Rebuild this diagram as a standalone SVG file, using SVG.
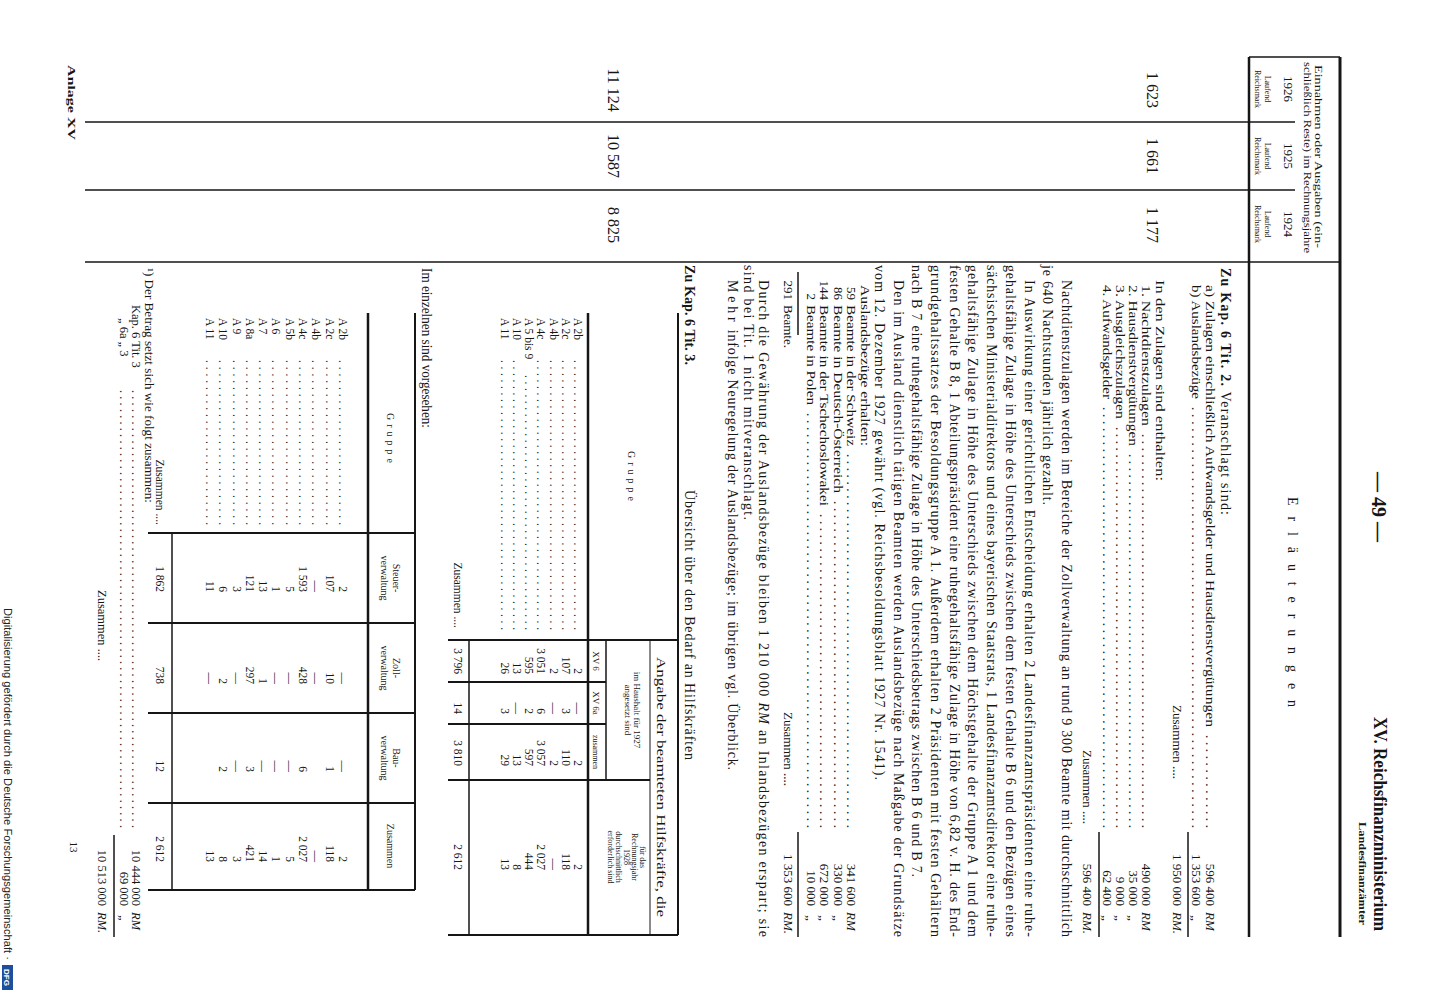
<svg xmlns="http://www.w3.org/2000/svg" width="1434" height="1000" viewBox="0 0 1434 1000">
<style>
.t{font-family:"Liberation Serif","DejaVu Serif",serif;fill:#161616}
.p{font-size:14px}
.q{font-size:13px}
.s{font-size:11.5px}
.f{font-size:12.5px}
.h{font-size:10px}
.xs{font-size:8px}
.b{font-weight:bold}
.i{font-style:italic}
.e{text-anchor:end}
.m{text-anchor:middle}
.k{stroke:#161616;fill:none}
</style>
<rect width="1434" height="1000" fill="#ffffff"/>
<g transform="translate(1434 0) rotate(90)">
<g id="rules" class="k">
<line x1="57" y1="94" x2="937" y2="94" stroke-width="3"/>
<line x1="57" y1="185" x2="937" y2="185" stroke-width="2.5"/>
<line x1="57" y1="94" x2="57" y2="185" stroke-width="1.5"/>
<line x1="262" y1="94" x2="262" y2="1349" stroke-width="1.6"/>
<line x1="122" y1="139" x2="122" y2="1349" stroke-width="1.6"/>
<line x1="190" y1="139" x2="190" y2="1349" stroke-width="1.6"/>
<line x1="832" y1="246" x2="937" y2="246" stroke-width="1.5"/>
<line x1="832" y1="335" x2="937" y2="335" stroke-width="1.5"/>
<line x1="272" y1="636" x2="335" y2="636" stroke-width="1.5"/>
<line x1="832" y1="636" x2="937" y2="636" stroke-width="1.5"/>
</g>
<g id="header">
<text class="t b m" x="507" y="62" font-size="20">— 49 —</text>
<text class="t b" x="717" y="60" font-size="18" textLength="214" lengthAdjust="spacingAndGlyphs">XV. Reichsfinanzministerium</text>
<text class="t b" x="822" y="75" font-size="10" textLength="103" lengthAdjust="spacingAndGlyphs">Landesfinanzämter</text>
<text class="t" x="65" y="119" font-size="10.5" textLength="183" lengthAdjust="spacingAndGlyphs">Einnahmen oder Ausgaben (ein-</text>
<text class="t" x="62" y="130" font-size="10.5" textLength="191" lengthAdjust="spacingAndGlyphs">schließlich Reste) im Rechnungsjahre</text>
<text class="t m" x="89" y="150" font-size="13">1926</text>
<text class="t m" x="156" y="150" font-size="13">1925</text>
<text class="t m" x="224" y="150" font-size="13">1924</text>
<text class="t m xs" x="89" y="169">Laufend</text>
<text class="t m xs" x="89" y="179">Reichsmark</text>
<text class="t m xs" x="156" y="169">Laufend</text>
<text class="t m xs" x="156" y="179">Reichsmark</text>
<text class="t m xs" x="224" y="169">Laufend</text>
<text class="t m xs" x="224" y="179">Reichsmark</text>
<text class="t p" x="497" y="146" textLength="210" lengthAdjust="spacing">Erläuterungen</text>
</g>
<g id="amounts">
<text class="t m" x="90" y="287" font-size="16">1 623</text>
<text class="t m" x="156" y="287" font-size="16">1 661</text>
<text class="t m" x="225" y="287" font-size="16">1 177</text>
<text class="t m" x="90" y="826" font-size="16">11 124</text>
<text class="t m" x="156" y="826" font-size="16">10 587</text>
<text class="t m" x="225" y="826" font-size="16">8 825</text>
</g>
<g id="body-text">
<text class="t p" x="268" y="213" textLength="247" lengthAdjust="spacing"><tspan class="b">Zu Kap. 6 Tit. 2.</tspan>  Veranschlagt sind:</text>
<text class="t q" x="285" y="228" textLength="442" lengthAdjust="spacingAndGlyphs">a) Zulagen einschließlich Aufwandsgelder und Hausdienstvergütungen</text>
<text class="t q" x="735" y="228" textLength="93" lengthAdjust="spacing">..............</text>
<text class="t q e" x="906" y="228">596 400</text><text class="t q i" x="912" y="228">RM</text>
<text class="t q" x="285" y="242" textLength="114" lengthAdjust="spacingAndGlyphs">b) Auslandsbezüge</text>
<text class="t q" x="407" y="242" textLength="421" lengthAdjust="spacing">............................................................</text>
<text class="t q e" x="906" y="242">1 353 600</text><text class="t q" x="915" y="242">„</text>
<text class="t q" x="705" y="261">Zusammen ....</text>
<text class="t q e" x="906" y="261">1 950 000</text><text class="t q i" x="912" y="261">RM.</text>
<text class="t q" x="280" y="278" textLength="201" lengthAdjust="spacingAndGlyphs">In den Zulagen sind enthalten:</text>
<text class="t q" x="285" y="292" textLength="141" lengthAdjust="spacingAndGlyphs">1. Nachtdienstzulagen</text>
<text class="t q" x="434" y="292" textLength="394" lengthAdjust="spacing">..........................................................</text>
<text class="t q e" x="906" y="292">490 000</text><text class="t q i" x="912" y="292">RM</text>
<text class="t q" x="285" y="305" textLength="161" lengthAdjust="spacingAndGlyphs">2. Hausdienstvergütungen</text>
<text class="t q" x="454" y="305" textLength="374" lengthAdjust="spacing">.......................................................</text>
<text class="t q e" x="906" y="305">35 000</text><text class="t q" x="915" y="305">„</text>
<text class="t q" x="285" y="318" textLength="134" lengthAdjust="spacingAndGlyphs">3. Ausgleichszulagen</text>
<text class="t q" x="427" y="318" textLength="401" lengthAdjust="spacing">...........................................................</text>
<text class="t q e" x="906" y="318">9 000</text><text class="t q" x="915" y="318">„</text>
<text class="t q" x="285" y="331" textLength="114" lengthAdjust="spacingAndGlyphs">4. Aufwandsgelder</text>
<text class="t q" x="407" y="331" textLength="421" lengthAdjust="spacing">.............................................................</text>
<text class="t q e" x="906" y="331">62 400</text><text class="t q" x="915" y="331">„</text>
<text class="t q" x="750" y="351">Zusammen ....</text>
<text class="t q e" x="906" y="351">596 400</text><text class="t q i" x="912" y="351">RM.</text>
<text class="t p" x="280" y="372" textLength="657" lengthAdjust="spacing">Nachtdienstzulagen werden im Bereiche der Zollverwaltung an rund 9 300 Beamte mit durchschnittlich</text>
<text class="t p" x="265" y="391" textLength="240" lengthAdjust="spacing">je 640 Nachtstunden jährlich gezahlt.</text>
<text class="t p" x="280" y="409" textLength="657" lengthAdjust="spacing">In Auswirkung einer gerichtlichen Entscheidung erhalten 2 Landesfinanzamtspräsidenten eine ruhe-</text>
<text class="t p" x="265" y="428" textLength="672" lengthAdjust="spacing">gehaltsfähige Zulage in Höhe des Unterschieds zwischen dem festen Gehalte B 6 und den Bezügen eines</text>
<text class="t p" x="265" y="447" textLength="672" lengthAdjust="spacing">sächsischen Ministerialdirektors und eines bayerischen Staatsrats, 1 Landesfinanzamtsdirektor eine ruhe-</text>
<text class="t p" x="265" y="466" textLength="672" lengthAdjust="spacing">gehaltsfähige Zulage in Höhe des Unterschieds zwischen dem Höchstgehalte der Gruppe A 1 und dem</text>
<text class="t p" x="265" y="484" textLength="672" lengthAdjust="spacing">festen Gehalte B 8, 1 Abteilungspräsident eine ruhegehaltsfähige Zulage in Höhe von 6,82 v. H. des End-</text>
<text class="t p" x="265" y="503" textLength="672" lengthAdjust="spacing">grundgehaltssatzes der Besoldungsgruppe A 1. Außerdem erhalten 2 Präsidenten mit festen Gehältern</text>
<text class="t p" x="265" y="522" textLength="612" lengthAdjust="spacing">nach B 7 eine ruhegehaltsfähige Zulage in Höhe des Unterschiedsbetrags zwischen B 6 und B 7.</text>
<text class="t p" x="280" y="540" textLength="657" lengthAdjust="spacing">Den im Ausland dienstlich tätigen Beamten werden Auslandsbezüge nach Maßgabe der Grundsätze</text>
<text class="t p" x="265" y="559" textLength="515" lengthAdjust="spacing">vom 12. Dezember 1927 gewährt (vgl. Reichsbesoldungsblatt 1927 Nr. 1541).</text>
<text class="t q" x="285" y="573" textLength="161" lengthAdjust="spacingAndGlyphs">Auslandsbezüge erhalten:</text>
<text class="t q e" x="300" y="587">59</text>
<text class="t q" x="305" y="587" textLength="141" lengthAdjust="spacingAndGlyphs">Beamte in der Schweiz</text>
<text class="t q" x="454" y="587" textLength="374" lengthAdjust="spacing">.......................................................</text>
<text class="t q e" x="906" y="587">341 600</text><text class="t q i" x="912" y="587">RM</text>
<text class="t q e" x="300" y="600">86</text>
<text class="t q" x="305" y="600" textLength="188" lengthAdjust="spacingAndGlyphs">Beamte in Deutsch-Österreich</text>
<text class="t q" x="501" y="600" textLength="327" lengthAdjust="spacing">................................................</text>
<text class="t q e" x="906" y="600">330 000</text><text class="t q" x="915" y="600">„</text>
<text class="t q e" x="300" y="614">144</text>
<text class="t q" x="305" y="614" textLength="201" lengthAdjust="spacingAndGlyphs">Beamte in der Tschechoslowakei</text>
<text class="t q" x="514" y="614" textLength="314" lengthAdjust="spacing">..............................................</text>
<text class="t q e" x="906" y="614">672 000</text><text class="t q" x="915" y="614">„</text>
<text class="t q e" x="300" y="627">2</text>
<text class="t q" x="305" y="627" textLength="100" lengthAdjust="spacingAndGlyphs">Beamte in Polen</text>
<text class="t q" x="413" y="627" textLength="415" lengthAdjust="spacing">............................................................</text>
<text class="t q e" x="906" y="627">10 000</text><text class="t q" x="915" y="627">„</text>
<text class="t q e" x="300" y="650">291</text>
<text class="t q" x="305" y="650">Beamte.</text>
<text class="t q" x="712" y="650">Zusammen ....</text>
<text class="t q e" x="906" y="650">1 353 600</text><text class="t q i" x="912" y="650">RM.</text>
<text class="t p" x="280" y="675" textLength="657" lengthAdjust="spacing">Durch die Gewährung der Auslandsbezüge bleiben 1 210 000 <tspan class="i">RM</tspan> an Inlandsbezügen erspart; sie</text>
<text class="t p" x="265" y="690" textLength="255" lengthAdjust="spacing">sind bei Tit. 1 nicht mitveranschlagt.</text>
<text class="t p" x="280" y="706" textLength="490" lengthAdjust="spacing"><tspan letter-spacing="3">Mehr</tspan> infolge Neuregelung der Auslandsbezüge; im übrigen vgl. Überblick.</text>
<text class="t p b" x="265" y="749" textLength="100" lengthAdjust="spacingAndGlyphs">Zu Kap. 6 Tit. 3.</text>
<text class="t p" x="490" y="749" textLength="270" lengthAdjust="spacing">Übersicht über den Bedarf an Hilfskräften</text>
</g>
<g id="table-tit3">
<g class="k">
<line x1="313" y1="756" x2="935" y2="756" stroke-width="2"/>
<line x1="313" y1="846" x2="935" y2="846" stroke-width="2.5"/>
<line x1="640" y1="784" x2="935" y2="784" stroke-width="1"/>
<line x1="640" y1="828" x2="780" y2="828" stroke-width="1.5"/>
<line x1="640" y1="965" x2="935" y2="965" stroke-width="1.5"/>
<line x1="640" y1="756" x2="640" y2="986" stroke-width="1.8"/>
<line x1="682" y1="828" x2="682" y2="986" stroke-width="1.8"/>
<line x1="724" y1="828" x2="724" y2="986" stroke-width="1.8"/>
<line x1="780" y1="784" x2="780" y2="986" stroke-width="1.8"/>
<line x1="935" y1="756" x2="935" y2="986" stroke-width="1.8"/>
</g>
<text class="t h m" x="478" y="806" letter-spacing="4">Gruppe</text>
<text class="t m" x="787" y="777" font-size="11.5" textLength="260" lengthAdjust="spacingAndGlyphs">Angabe der beamteten Hilfskräfte, die</text>
<text class="t m" x="710" y="800" font-size="9">im Haushalt für 1927</text>
<text class="t m" x="710" y="809" font-size="9">angesetzt sind</text>
<text class="t m xs" x="857" y="794">für das</text>
<text class="t m xs" x="857" y="802">Rechnungsjahr</text>
<text class="t m xs" x="857" y="810">1928</text>
<text class="t m xs" x="857" y="818">durchschnittlich</text>
<text class="t m xs" x="857" y="826">erforderlich sind</text>
<text class="t m" x="661" y="841" font-size="9">XV 6</text>
<text class="t m" x="703" y="841" font-size="9">XV 6a</text>
<text class="t m" x="752" y="841" font-size="8">zusammen</text>
<g class="t s">
<text x="318" y="860">A  2b</text><text x="360" y="860" textLength="270" lengthAdjust="spacing">..........................................</text>
<text x="318" y="872">A  2c</text><text x="360" y="872" textLength="270" lengthAdjust="spacing">..........................................</text>
<text x="318" y="884">A  4b</text><text x="360" y="884" textLength="270" lengthAdjust="spacing">..........................................</text>
<text x="318" y="897">A  4c</text><text x="360" y="897" textLength="270" lengthAdjust="spacing">..........................................</text>
<text x="318" y="909">A 5 bis 9</text><text x="375" y="909" textLength="255" lengthAdjust="spacing">........................................</text>
<text x="318" y="921">A 10</text><text x="360" y="921" textLength="270" lengthAdjust="spacing">..........................................</text>
<text x="318" y="933">A 11</text><text x="360" y="933" textLength="270" lengthAdjust="spacing">..........................................</text>
<text x="628" y="980" text-anchor="end">Zusammen ....</text>
</g>
<g class="t s e">
<text x="674" y="860">2</text><text x="714" y="860">—</text><text x="766" y="860">2</text><text x="870" y="860">2</text>
<text x="674" y="872">107</text><text x="714" y="872">3</text><text x="766" y="872">110</text><text x="870" y="872">118</text>
<text x="674" y="884">2</text><text x="714" y="884">—</text><text x="766" y="884">2</text><text x="870" y="884">—</text>
<text x="674" y="897">3 051</text><text x="714" y="897">6</text><text x="766" y="897">3 057</text><text x="870" y="897">2 027</text>
<text x="674" y="909">595</text><text x="714" y="909">2</text><text x="766" y="909">597</text><text x="870" y="909">444</text>
<text x="674" y="921">13</text><text x="714" y="921">—</text><text x="766" y="921">13</text><text x="870" y="921">8</text>
<text x="674" y="933">26</text><text x="714" y="933">3</text><text x="766" y="933">29</text><text x="870" y="933">13</text>
<text x="674" y="980">3 796</text><text x="714" y="980">14</text><text x="766" y="980">3 810</text><text x="870" y="980">2 612</text>
</g>
</g>
<g id="table-einzeln">
<text class="t p" x="268" y="1012" textLength="160" lengthAdjust="spacingAndGlyphs">Im einzelnen sind vorgesehen:</text>
<g class="k">
<line x1="313" y1="1019" x2="890" y2="1019" stroke-width="2"/>
<line x1="313" y1="1066" x2="890" y2="1066" stroke-width="2.5"/>
<line x1="533" y1="1262" x2="890" y2="1262" stroke-width="1.5"/>
<line x1="533" y1="1019" x2="533" y2="1286" stroke-width="1.8"/>
<line x1="623" y1="1019" x2="623" y2="1286" stroke-width="1.8"/>
<line x1="713" y1="1019" x2="713" y2="1286" stroke-width="1.8"/>
<line x1="803" y1="1019" x2="803" y2="1286" stroke-width="1.8"/>
<line x1="890" y1="1019" x2="890" y2="1286" stroke-width="1.8"/>
</g>
<text class="t h m" x="440" y="1047" letter-spacing="4">Gruppe</text>
<text class="t h m" x="578" y="1041">Steuer-</text><text class="t h m" x="578" y="1053">verwaltung</text>
<text class="t h m" x="668" y="1041">Zoll-</text><text class="t h m" x="668" y="1053">verwaltung</text>
<text class="t h m" x="758" y="1041">Bau-</text><text class="t h m" x="758" y="1053">verwaltung</text>
<text class="t h m" x="846" y="1047">Zusammen</text>
<g class="t s">
<text x="318" y="1095">A  2b</text><text x="360" y="1095" textLength="165" lengthAdjust="spacing">.........................</text>
<text x="318" y="1108">A  2c</text><text x="360" y="1108" textLength="165" lengthAdjust="spacing">.........................</text>
<text x="318" y="1122">A  4b</text><text x="360" y="1122" textLength="165" lengthAdjust="spacing">.........................</text>
<text x="318" y="1135">A  4c</text><text x="360" y="1135" textLength="165" lengthAdjust="spacing">.........................</text>
<text x="318" y="1148">A  5b</text><text x="360" y="1148" textLength="165" lengthAdjust="spacing">.........................</text>
<text x="318" y="1162">A  6</text><text x="360" y="1162" textLength="165" lengthAdjust="spacing">.........................</text>
<text x="318" y="1175">A  7</text><text x="360" y="1175" textLength="165" lengthAdjust="spacing">.........................</text>
<text x="318" y="1188">A  8a</text><text x="360" y="1188" textLength="165" lengthAdjust="spacing">.........................</text>
<text x="318" y="1201">A  9</text><text x="360" y="1201" textLength="165" lengthAdjust="spacing">.........................</text>
<text x="318" y="1215">A 10</text><text x="360" y="1215" textLength="165" lengthAdjust="spacing">.........................</text>
<text x="318" y="1228">A 11</text><text x="360" y="1228" textLength="165" lengthAdjust="spacing">.........................</text>
<text x="525" y="1278" text-anchor="end">Zusammen ....</text>
</g>
<g class="t s e">
<text x="592" y="1095">2</text><text x="684" y="1095">—</text><text x="772" y="1095">—</text><text x="862" y="1095">2</text>
<text x="592" y="1108">107</text><text x="684" y="1108">10</text><text x="772" y="1108">1</text><text x="862" y="1108">118</text>
<text x="592" y="1122">—</text><text x="684" y="1122">—</text><text x="862" y="1122">—</text>
<text x="592" y="1135">1 593</text><text x="684" y="1135">428</text><text x="772" y="1135">6</text><text x="862" y="1135">2 027</text>
<text x="592" y="1148">5</text><text x="684" y="1148">—</text><text x="772" y="1148">—</text><text x="862" y="1148">5</text>
<text x="592" y="1162">1</text><text x="684" y="1162">—</text><text x="772" y="1162">—</text><text x="862" y="1162">1</text>
<text x="592" y="1175">13</text><text x="684" y="1175">1</text><text x="772" y="1175">—</text><text x="862" y="1175">14</text>
<text x="592" y="1188">121</text><text x="684" y="1188">297</text><text x="772" y="1188">3</text><text x="862" y="1188">421</text>
<text x="592" y="1201">3</text><text x="684" y="1201">—</text><text x="772" y="1201">—</text><text x="862" y="1201">3</text>
<text x="592" y="1215">6</text><text x="684" y="1215">2</text><text x="772" y="1215">2</text><text x="862" y="1215">8</text>
<text x="592" y="1228">11</text><text x="684" y="1228">—</text><text x="862" y="1228">13</text>
<text x="592" y="1278">1 862</text><text x="684" y="1278">738</text><text x="772" y="1278">12</text><text x="862" y="1278">2 612</text>
</g>
</g>
<g id="footnote">
<text class="t f" x="268" y="1289" textLength="235" lengthAdjust="spacingAndGlyphs">¹) Der Betrag setzt sich wie folgt zusammen:</text>
<text class="t f" x="305" y="1302">Kap. 6   Tit. 3</text>
<text class="t f" x="390" y="1302" textLength="438" lengthAdjust="spacing">......................................................................</text>
<text class="t f e" x="906" y="1302">10 444 000</text><text class="t f i" x="912" y="1302">RM</text>
<text class="t f" x="318" y="1314">„   6a   „    3</text>
<text class="t f" x="390" y="1314" textLength="438" lengthAdjust="spacing">......................................................................</text>
<text class="t f e" x="906" y="1314">69 000</text><text class="t f" x="915" y="1314">„</text>
<line class="k" x1="835" y1="1320" x2="937" y2="1320" stroke-width="1.5"/>
<text class="t f" x="590" y="1336">Zusammen ....</text>
<text class="t f e" x="906" y="1336">10 513 000</text><text class="t f i" x="912" y="1336">RM.</text>
<text class="t m" x="847" y="1364" font-size="11">13</text>
<text class="t b" x="65" y="1366" font-size="11" textLength="75" lengthAdjust="spacingAndGlyphs">Anlage XV</text>
</g>
<g id="credit">
<text x="608" y="1430" font-family="Liberation Sans, Arial, sans-serif" font-size="10" fill="#222" textLength="352" lengthAdjust="spacingAndGlyphs">Digitalisierung gefördert durch die Deutsche Forschungsgemeinschaft ·</text>
<rect x="965" y="1421" width="25" height="11" fill="#1f4e9c"/>
<text x="977.5" y="1430" text-anchor="middle" font-family="Liberation Sans, Arial, sans-serif" font-size="8" font-weight="bold" fill="#ffffff">DFG</text>
</g>
</g>
</svg>
